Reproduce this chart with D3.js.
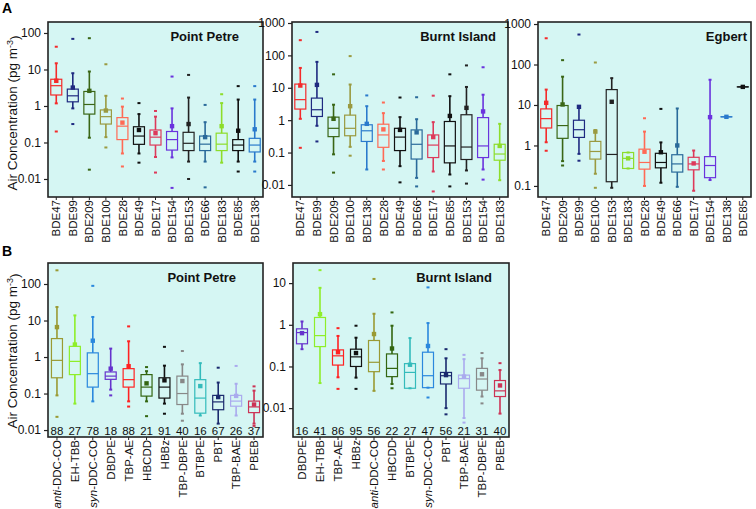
<!DOCTYPE html>
<html>
<head>
<meta charset="utf-8">
<script src="https://cdn.jsdelivr.net/npm/d3@7"></script>
<style>
  body { margin: 0; background: #fff; }
  text { font-family: "Liberation Sans", Arial, sans-serif; }
</style>
</head>
<body>
<svg id="chart" width="756" height="509"></svg>
<script>
// stats rows: [whisker low, q1, median, q3, whisker high, mean, outlier low, outlier high]

// A - Point Petre
var ppA_cats = ["BDE47", "BDE99", "BDE209", "BDE100", "BDE28", "BDE49", "BDE17", "BDE154", "BDE153", "BDE66", "BDE183", "BDE85", "BDE138"]
var ppA_stats = [
  [1.18, 2.0, 3.6, 5.4, 14.8, 4.9, 0.2, 42],
  [0.86, 1.3, 1.9, 2.9, 7.9, 3.2, 0.32, 69],
  [0.135, 0.6, 1.1, 2.5, 8.8, 2.6, 0.018, 72],
  [0.14, 0.32, 0.51, 0.78, 1.9, 0.75, 0.073, 13.9],
  [0.05, 0.12, 0.28, 0.48, 0.96, 0.35, 0.022, 1.6],
  [0.05, 0.089, 0.15, 0.27, 0.6, 0.22, 0.028, 1.2],
  [0.04, 0.085, 0.14, 0.22, 0.51, 0.18, 0.015, 0.73],
  [0.039, 0.062, 0.12, 0.2, 0.86, 0.28, 0.0057, 6.4],
  [0.03, 0.06, 0.095, 0.19, 1.7, 0.32, 0.01, 7.1],
  [0.03, 0.06, 0.09, 0.15, 0.36, 0.14, 0.0059, 1.07],
  [0.028, 0.06, 0.09, 0.18, 1.2, 0.28, null, 2.1],
  [0.03, 0.06, 0.085, 0.12, 1.5, 0.21, 0.016, 3.5],
  [0.03, 0.055, 0.085, 0.13, 1.5, 0.23, 0.016, 3.5]
]

// A - Burnt Island
var biA_cats = ["BDE47", "BDE99", "BDE209", "BDE100", "BDE138", "BDE28", "BDE49", "BDE66", "BDE17", "BDE85", "BDE153", "BDE154", "BDE183"]
var biA_stats = [
  [1.1, 2.2, 4.3, 13, 41, 11.7, 0.14, 295],
  [0.67, 1.3, 2.1, 4.8, 63, 12.3, 0.22, 530],
  [0.088, 0.31, 0.56, 1.24, 3, 1.1, 0.024, 26],
  [0.15, 0.33, 0.56, 1.43, 12.6, 2.7, 0.08, 95],
  [0.03, 0.22, 0.47, 0.72, 2.7, 0.77, null, 5.8],
  [0.055, 0.145, 0.35, 0.75, 1.65, 0.52, 0.03, 3.5],
  [0.038, 0.115, 0.3, 0.56, 1.24, 0.5, 0.012, 5],
  [0.0165, 0.063, 0.18, 0.5, 1.07, 0.42, 0.009, 5.1],
  [0.026, 0.07, 0.17, 0.35, 0.87, 0.3, 0.0063, 5.7],
  [0.021, 0.048, 0.16, 0.91, 5.5, 1.35, 0.009, 26],
  [0.028, 0.061, 0.148, 1.47, 10.6, 2.4, 0.011, 49],
  [0.03, 0.07, 0.16, 1.2, 6.1, 1.86, 0.0146, 43],
  [0.014, 0.058, 0.09, 0.18, 0.77, 0.16, null, null]
]

// A - Egbert
var egA_cats = ["BDE47", "BDE209", "BDE99", "BDE100", "BDE153", "BDE183", "BDE28", "BDE49", "BDE66", "BDE17", "BDE154", "BDE138", "BDE85"]
var egA_stats = [
  [1.2, 2.7, 4.6, 8, 24, 11.3, 0.74, 445],
  [0.41, 1.5, 3.1, 9.7, 50, 10.3, 0.32, 128],
  [0.62, 1.58, 2.45, 4.2, 9, 9, 0.42, 550],
  [0.2, 0.46, 0.71, 1.26, 2.4, 2.2, 0.09, 112],
  [0.09, 0.127, 0.6, 24, 46, 12, null, null],
  [0.27, 0.27, 0.48, 0.67, 0.67, 0.48, null, null],
  [0.1, 0.26, 0.38, 0.81, 2.2, 0.7, null, 4.7],
  [0.12, 0.28, 0.38, 0.64, 1.19, 0.68, null, 8],
  [0.095, 0.22, 0.35, 0.59, 8.2, 1.0, null, null],
  [0.076, 0.25, 0.35, 0.51, 0.75, 0.36, null, null],
  [0.14, 0.16, 0.32, 0.53, 42, 5, null, null],
  [5.1, 5.1, 5.1, 5.1, 5.1, 5.1, null, null],
  [28, 28, 28, 28, 28, 28, null, null]
]

// B - Point Petre
var ppB_cats = ["anti-DDC-CO", "EH-TBB", "syn-DDC-CO", "DBDPE", "TBP-AE", "HBCDD", "HBBz", "TBP-DBPE", "BTBPE", "PBT", "TBP-BAE", "PBEB"]
var ppB_counts = [88, 27, 78, 18, 88, 21, 91, 40, 16, 67, 26, 37]
var ppB_stats = [
  [0.089, 0.27, 0.81, 3.2, 23.4, 6.6, 0.023, 237],
  [0.053, 0.33, 0.76, 1.96, 13.8, 2.2, null, null],
  [0.061, 0.15, 0.35, 1.3, 12.5, 2.8, null, 89],
  [0.128, 0.245, 0.3, 0.39, 1.7, 0.48, 0.089, null],
  [0.061, 0.15, 0.24, 0.48, 2.7, 0.56, 0.044, 6.9],
  [0.061, 0.085, 0.15, 0.33, 0.41, 0.19, 0.024, 0.53],
  [0.053, 0.075, 0.15, 0.27, 0.58, 0.23, 0.028, 1.9],
  [0.028, 0.05, 0.1, 0.3, 0.63, 0.22, 0.018, 1.46],
  [0.025, 0.029, 0.075, 0.24, 0.68, 0.16, null, null],
  [0.015, 0.036, 0.059, 0.089, 0.2, 0.08, null, 0.51],
  [0.025, 0.045, 0.062, 0.089, 0.185, 0.086, null, 0.57],
  [0.015, 0.03, 0.043, 0.062, 0.12, 0.05, 0.013, 0.157]
]

// B - Burnt Island
var biB_cats = ["DBDPE", "EH-TBB", "TBP-AE", "HBBz", "anti-DDC-CO", "HBCDD", "BTBPE", "syn-DDC-CO", "PBT", "TBP-BAE", "TBP-DBPE", "PBEB"]
var biB_counts = [16, 41, 86, 95, 56, 22, 27, 47, 56, 21, 31, 40]
var biB_stats = [
  [0.26, 0.35, 0.65, 0.8, 1.2, 0.63, null, null],
  [0.04, 0.3, 0.55, 1.5, 7.7, 1.8, null, 20.5],
  [0.055, 0.108, 0.18, 0.25, 0.54, 0.22, 0.029, 0.83],
  [0.054, 0.1, 0.17, 0.26, 0.49, 0.21, 0.029, 0.95],
  [0.026, 0.075, 0.126, 0.42, 1.84, 0.6, null, 12.6],
  [0.038, 0.057, 0.09, 0.2, 0.95, 0.27, 0.03, 1.98],
  [0.03, 0.03, 0.072, 0.117, 0.48, 0.11, null, null],
  [0.031, 0.031, 0.06, 0.22, 1.1, 0.31, 0.018, 7.9],
  [0.01, 0.038, 0.06, 0.072, 0.157, 0.062, 0.0071, 0.26],
  [0.0058, 0.03, 0.051, 0.062, 0.15, 0.057, 0.0045, 0.19],
  [0.019, 0.027, 0.05, 0.09, 0.157, 0.065, 0.013, 0.21],
  [0.0074, 0.019, 0.026, 0.046, 0.082, 0.035, null, 0.12]
]

var ticksA_pp = [100, 10, 1, 0.1, 0.01]
var ticksA_bi = [1000, 100, 10, 1, 0.1, 0.01]
var ticksA_eg = [1000, 100, 10, 1, 0.1]
var ticksB_pp = [100, 10, 1, 0.1, 0.01]
var ticksB_bi = [10, 1, 0.1, 0.01]

var colors = {
  "BDE47": "#f42a2a", "BDE99": "#1f2a80", "BDE209": "#3a6616", "BDE100": "#9a9a40",
  "BDE28": "#ff6a55", "BDE49": "#111111", "BDE17": "#dd3a5a", "BDE154": "#6a33dd",
  "BDE153": "#222222", "BDE66": "#2a6a9a", "BDE183": "#8ddd2a", "BDE85": "#111111",
  "BDE138": "#2a7acc",
  "anti-DDC-CO": "#9a9a33", "EH-TBB": "#8eee2a", "syn-DDC-CO": "#2a88dd", "DBDPE": "#6633cc",
  "TBP-AE": "#ff2222", "HBCDD": "#336611", "HBBz": "#111111", "TBP-DBPE": "#888888",
  "BTBPE": "#33bbbb", "PBT": "#1a2a6e", "TBP-BAE": "#aaaaee", "PBEB": "#cc3355"
}

var bg = "#d5f6f3"
var svg = d3.select("#chart")

function drawPanel(p) {
  var x = d3.scaleBand().domain(p.cats).range([p.x0, p.x1])
  var y = d3.scaleLog().domain(p.domain).range([p.y1, p.y0])
  var g = svg.append("g")
  var bw = 11

  g.append("rect")
    .attr("x", p.x0).attr("y", p.y0)
    .attr("width", p.x1 - p.x0).attr("height", p.y1 - p.y0)
    .attr("fill", bg)

  p.cats.forEach(function (c, i) {
    var s = p.stats[i]
    var cx = x(c) + x.bandwidth() / 2
    var col = colors[c]
    var b = g.append("g")
    // whiskers
    b.append("line").attr("x1", cx).attr("x2", cx).attr("y1", y(s[0])).attr("y2", y(s[1]))
      .attr("stroke", col).attr("stroke-width", 1.6)
    b.append("line").attr("x1", cx).attr("x2", cx).attr("y1", y(s[3])).attr("y2", y(s[4]))
      .attr("stroke", col).attr("stroke-width", 1.6)
    ;[s[0], s[4]].forEach(function (v) {
      b.append("rect").attr("x", cx - 1.5).attr("y", y(v) - 1).attr("width", 3).attr("height", 2)
        .attr("fill", col)
    })
    // box
    b.append("rect")
      .attr("x", cx - bw / 2).attr("y", y(s[3]))
      .attr("width", bw).attr("height", Math.max(0.01, y(s[1]) - y(s[3])))
      .attr("fill", "none").attr("stroke", col).attr("stroke-width", 1.2)
    b.append("line").attr("x1", cx - bw / 2).attr("x2", cx + bw / 2)
      .attr("y1", y(s[2])).attr("y2", y(s[2]))
      .attr("stroke", col).attr("stroke-width", 1.2)
    // mean
    b.append("rect").attr("x", cx - 2.2).attr("y", y(s[5]) - 2.2).attr("width", 4.4).attr("height", 4.4)
      .attr("fill", col)
    // outliers
    ;[s[6], s[7]].forEach(function (v) {
      if (v == null) return
      b.append("rect").attr("x", cx - 1.5).attr("y", y(v) - 1).attr("width", 3).attr("height", 2)
        .attr("fill", col)
    })
    if (p.counts) {
      g.append("text").attr("x", cx).attr("y", p.y1 - 2)
        .attr("text-anchor", "middle").style("font-size", "11.5px").attr("fill", "#111")
        .text(p.counts[i])
    }
  })

  // frame
  g.append("rect")
    .attr("x", p.x0).attr("y", p.y0)
    .attr("width", p.x1 - p.x0).attr("height", p.y1 - p.y0)
    .attr("fill", "none").attr("stroke", "#222").attr("stroke-width", 1.6)

  // title
  g.append("text").attr("x", p.x1 - p.titlePad).attr("y", p.y0 + 19)
    .attr("text-anchor", "end").style("font-size", "13px").style("font-weight", "bold")
    .attr("fill", "#111").text(p.title)

  // y axis
  var ya = g.append("g").attr("transform", "translate(" + p.x0 + ",0)")
    .call(d3.axisLeft(y).tickValues(p.ticks).tickFormat(d3.format("~g")).tickSize(4).tickPadding(3))
  ya.select(".domain").remove()
  ya.selectAll("line").attr("stroke", "#222").attr("stroke-width", 1.2)
  ya.selectAll("text").style("font-size", "12px").attr("fill", "#111")

  // x axis ticks
  var xa = g.append("g").attr("transform", "translate(0," + p.y1 + ")")
    .call(d3.axisBottom(x).tickSize(3).tickFormat(""))
  xa.select(".domain").remove()
  xa.selectAll("line").attr("stroke", "#222")

  // rotated x labels
  p.cats.forEach(function (c) {
    var cx = x(c) + x.bandwidth() / 2
    var t = g.append("text")
      .attr("transform", "translate(" + cx + "," + (p.y1 + 3) + ") rotate(-90)")
      .attr("text-anchor", "end").attr("dy", "0.36em")
      .style("font-size", "11.5px").attr("fill", "#111")
    var m = c.match(/^(anti|syn)(-.*)$/)
    if (m) {
      t.append("tspan").style("font-style", "italic").text(m[1])
      t.append("tspan").text(m[2])
    } else {
      t.text(c)
    }
  })
}

drawPanel({ cats: ppA_cats, stats: ppA_stats, x0: 48, x1: 263, y0: 22, y1: 197,
  domain: [0.00321, 200], ticks: ticksA_pp, title: "Point Petre", titlePad: 24 })
drawPanel({ cats: biA_cats, stats: biA_stats, x0: 292, x1: 508, y0: 22, y1: 197,
  domain: [0.00424, 1074], ticks: ticksA_bi, title: "Burnt Island", titlePad: 12 })
drawPanel({ cats: egA_cats, stats: egA_stats, x0: 538, x1: 751, y0: 22, y1: 197,
  domain: [0.0533, 1122], ticks: ticksA_eg, title: "Egbert", titlePad: 4 })
drawPanel({ cats: ppB_cats, stats: ppB_stats, counts: ppB_counts, x0: 48, x1: 263, y0: 263, y1: 437,
  domain: [0.00645, 376], ticks: ticksB_pp, title: "Point Petre", titlePad: 27 })
drawPanel({ cats: biB_cats, stats: biB_stats, counts: biB_counts, x0: 293, x1: 509, y0: 263, y1: 437,
  domain: [0.00203, 30.4], ticks: ticksB_bi, title: "Burnt Island", titlePad: 17 })

// panel letters
svg.append("text").attr("x", 2).attr("y", 13).style("font-size", "14px").style("font-weight", "bold").text("A")
svg.append("text").attr("x", 2).attr("y", 256).style("font-size", "14px").style("font-weight", "bold").text("B")

// y titles
;[113, 351].forEach(function (cy) {
  var t = svg.append("text")
    .attr("transform", "translate(17," + cy + ") rotate(-90)")
    .attr("text-anchor", "middle").style("font-size", "13.5px").attr("fill", "#111")
  t.append("tspan").text("Air Concentration (pg m")
  t.append("tspan").attr("dy", "-0.45em").style("font-size", "9px").text("-3")
  t.append("tspan").attr("dy", "0.45em").text(")")
})
</script>
</body>
</html>
